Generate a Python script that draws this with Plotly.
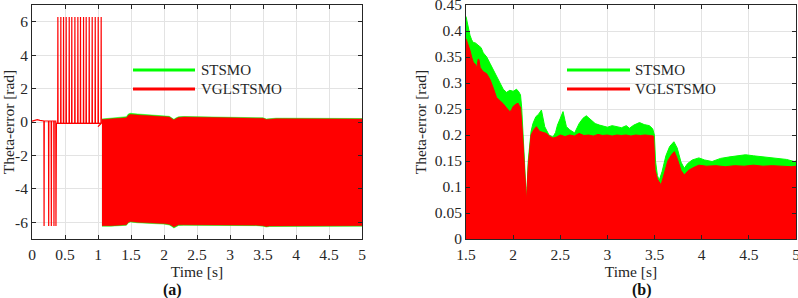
import plotly.graph_objects as go

# ---------------- Panel (a) data ----------------
# Early VGLSTSMO trace (before the dense oscillation starts)
a_base_t = [0.0, 0.04, 0.08, 0.12, 0.17]
a_base_v = [0.05, 0.08, 0.14, 0.10, 0.08]
a_down_spike_t = [0.18, 0.25, 0.29, 0.33, 0.36]
a_spike_low = -6.22
a_mid_level = -0.08
a_up_spike_t = [0.389, 0.434, 0.475, 0.515, 0.561, 0.600, 0.647, 0.692,
                0.732, 0.778, 0.818, 0.864, 0.909, 0.955, 1.000, 1.045]
a_spike_high = 6.28
a_tail_t = [1.0, 1.03, 1.055]
a_tail_v = [-0.28, -0.15, -0.05]
spike_w = 0.006

# Dense oscillation envelopes (t >= 1.06)
a_env_t = [1.06, 1.2, 1.3, 1.43, 1.46, 1.49, 1.6, 1.8, 2.0, 2.08, 2.12, 2.15,
           2.18, 2.22, 2.3, 2.6, 3.0, 3.4, 3.5, 3.55, 3.6, 3.7, 3.8, 4.0, 4.5, 5.0]
a_vgl_upper = [0.15, 0.18, 0.2, 0.25, 0.40, 0.45, 0.42, 0.38, 0.33, 0.30, 0.20, 0.12,
               0.20, 0.27, 0.30, 0.28, 0.26, 0.24, 0.22, 0.15, 0.18, 0.20, 0.20, 0.20, 0.19, 0.18]
a_vgl_lower = [-6.2, -6.2, -6.2, -6.15, -6.0, -5.95, -6.0, -6.05, -6.08, -6.12, -6.2, -6.28,
               -6.22, -6.15, -6.15, -6.15, -6.15, -6.17, -6.2, -6.25, -6.22, -6.18, -6.18, -6.18, -6.2, -6.2]
a_st_upper = [0.18, 0.22, 0.25, 0.32, 0.48, 0.52, 0.48, 0.43, 0.38, 0.34, 0.24, 0.16,
              0.24, 0.31, 0.33, 0.31, 0.29, 0.27, 0.25, 0.18, 0.21, 0.23, 0.23, 0.23, 0.22, 0.21]
a_st_lower = [-6.23, -6.23, -6.23, -6.18, -6.03, -5.98, -6.03, -6.08, -6.11, -6.16, -6.25, -6.34,
              -6.27, -6.19, -6.18, -6.18, -6.18, -6.2, -6.23, -6.28, -6.25, -6.21, -6.21, -6.21, -6.23, -6.23]

# ---------------- Panel (b) data (upper envelopes) ----------------
b_st_t = [1.5, 1.52, 1.542, 1.56, 1.577, 1.6, 1.63, 1.66, 1.683, 1.72, 1.754, 1.79,
          1.824, 1.86, 1.895, 1.93, 1.965, 2.0, 2.036, 2.06, 2.078, 2.09, 2.1, 2.12,
          2.141, 2.16, 2.19, 2.21, 2.24, 2.27, 2.3, 2.335, 2.38, 2.423, 2.45, 2.47,
          2.5, 2.529, 2.55, 2.565, 2.6, 2.652, 2.7, 2.74, 2.776, 2.82, 2.87, 2.917,
          2.96, 3.0, 3.05, 3.093, 3.15, 3.2, 3.233, 3.28, 3.34, 3.39, 3.445, 3.48,
          3.498, 3.51, 3.53, 3.55, 3.58, 3.62, 3.66, 3.705, 3.74, 3.78, 3.815, 3.85,
          3.9, 3.97, 4.03, 4.11, 4.2, 4.3, 4.38, 4.465, 4.55, 4.65, 4.72, 4.82, 4.9, 4.98, 5.0]
b_st_v = [0.428, 0.41, 0.392, 0.383, 0.378, 0.377, 0.372, 0.368, 0.358, 0.35, 0.338, 0.325,
          0.312, 0.298, 0.288, 0.282, 0.286, 0.284, 0.288, 0.283, 0.277, 0.254, 0.21, 0.15,
          0.072, 0.15, 0.207, 0.222, 0.235, 0.24, 0.248, 0.216, 0.2, 0.196, 0.205, 0.219,
          0.232, 0.245, 0.228, 0.216, 0.21, 0.204, 0.222, 0.232, 0.237, 0.23, 0.222, 0.219,
          0.217, 0.215, 0.218, 0.216, 0.214, 0.218, 0.213, 0.219, 0.224, 0.22, 0.218, 0.212,
          0.2, 0.15, 0.122, 0.113, 0.13, 0.16, 0.178, 0.187, 0.175, 0.148, 0.136, 0.145,
          0.152, 0.156, 0.152, 0.149, 0.155, 0.158, 0.16, 0.162, 0.16, 0.158, 0.157, 0.156, 0.153, 0.149, 0.15]
b_vgl_t = [1.5, 1.51, 1.542, 1.56, 1.577, 1.6, 1.613, 1.63, 1.637, 1.65, 1.68, 1.719,
           1.754, 1.79, 1.824, 1.86, 1.895, 1.93, 1.965, 1.983, 2.0, 2.036, 2.053, 2.07,
           2.078, 2.1, 2.12, 2.141, 2.16, 2.19, 2.22, 2.247, 2.28, 2.32, 2.353, 2.39,
           2.423, 2.46, 2.5, 2.55, 2.6, 2.65, 2.7, 2.75, 2.8, 2.85, 2.9, 2.95, 3.0,
           3.05, 3.1, 3.15, 3.2, 3.25, 3.3, 3.35, 3.4, 3.45, 3.49, 3.505, 3.53, 3.569,
           3.6, 3.64, 3.68, 3.71, 3.74, 3.78, 3.815, 3.86, 3.92, 3.97, 4.05, 4.15,
           4.25, 4.35, 4.45, 4.55, 4.65, 4.75, 4.85, 4.95, 5.0]
b_vgl_v = [0.385, 0.38, 0.363, 0.35, 0.34, 0.336, 0.329, 0.346, 0.345, 0.33, 0.322, 0.318,
           0.307, 0.29, 0.272, 0.266, 0.26, 0.252, 0.245, 0.248, 0.255, 0.26, 0.261, 0.254,
           0.254, 0.2, 0.14, 0.072, 0.14, 0.2, 0.21, 0.216, 0.207, 0.205, 0.203, 0.197,
           0.194, 0.196, 0.2, 0.197, 0.2, 0.198, 0.203, 0.199, 0.2, 0.198, 0.201, 0.199, 0.2,
           0.198, 0.2, 0.199, 0.2, 0.198, 0.2, 0.199, 0.2, 0.199, 0.198, 0.133, 0.115, 0.104,
           0.125, 0.15, 0.162, 0.168, 0.155, 0.132, 0.123, 0.132, 0.138, 0.142, 0.14, 0.141,
           0.139, 0.141, 0.14, 0.142, 0.14, 0.141, 0.14, 0.139, 0.14]

# Tick labels
a_xticks = [0, 0.5, 1, 1.5, 2, 2.5, 3, 3.5, 4, 4.5, 5]
a_xlabels = ["0", "0.5", "1", "1.5", "2", "2.5", "3", "3.5", "4", "4.5", "5"]
a_yticks = [-6, -4, -2, 0, 2, 4, 6]
a_ylabels = ["-6", "-4", "-2", "0", "2", "4", "6"]
b_xticks = [1.5, 2, 2.5, 3, 3.5, 4, 4.5, 5]
b_xlabels = ["1.5", "2", "2.5", "3", "3.5", "4", "4.5", "5"]
b_yticks = [0, 0.05, 0.1, 0.15, 0.2, 0.25, 0.3, 0.35, 0.4, 0.45]
b_ylabels = ["0", "0.05", "0.1", "0.15", "0.2", "0.25", "0.3", "0.35", "0.4", "0.45"]

series_names = ["STSMO", "VGLSTSMO"]
GREEN = "#00ff00"
RED = "#ff0000"
FONT = "Liberation Serif"
FS = 15.5

# ---------------- Build early red trace of panel (a) ----------------
early_x, early_y = list(a_base_t), list(a_base_v)
for t in a_down_spike_t:
    early_x += [t, t + spike_w / 2, t + spike_w]
    early_y += [0.06, a_spike_low, 0.06]
early_x += [a_down_spike_t[-1] + 0.01]
early_y += [a_mid_level]
for t in a_up_spike_t:
    early_x += [t, t + spike_w / 2, t + spike_w]
    early_y += [a_mid_level, a_spike_high, a_mid_level]
early_x += a_tail_t
early_y += a_tail_v

fig = go.Figure()

# Panel (a): envelopes of the dense oscillation
fig.add_trace(go.Scatter(x=a_env_t + a_env_t[::-1], y=a_st_upper + a_st_lower[::-1],
                         fill="toself", fillcolor=GREEN, line=dict(color=GREEN, width=0.5),
                         mode="lines", name=series_names[0], showlegend=False,
                         xaxis="x", yaxis="y", hoverinfo="skip"))
fig.add_trace(go.Scatter(x=a_env_t + a_env_t[::-1], y=a_vgl_upper + a_vgl_lower[::-1],
                         fill="toself", fillcolor=RED, line=dict(color=RED, width=0.5),
                         mode="lines", name=series_names[1], showlegend=False,
                         xaxis="x", yaxis="y", hoverinfo="skip"))
fig.add_trace(go.Scatter(x=early_x, y=early_y, mode="lines",
                         line=dict(color=RED, width=1.2), name=series_names[1],
                         showlegend=False, xaxis="x", yaxis="y"))

# Panel (b): filled envelopes
fig.add_trace(go.Scatter(x=b_st_t, y=b_st_v, fill="tozeroy", fillcolor=GREEN,
                         line=dict(color=GREEN, width=1), mode="lines",
                         name=series_names[0], showlegend=False, xaxis="x2", yaxis="y2"))
fig.add_trace(go.Scatter(x=b_vgl_t, y=b_vgl_v, fill="tozeroy", fillcolor=RED,
                         line=dict(color=RED, width=1), mode="lines",
                         name=series_names[1], showlegend=False, xaxis="x2", yaxis="y2"))

W, H = 798, 298
def px_x(p):
    return p / W
def px_y(p):
    return 1 - p / H

dom_a = [px_x(32), px_x(362)]
dom_b = [px_x(466), px_x(796)]
dom_y = [px_y(239), px_y(5)]

axis_common = dict(showline=True, linecolor="#262626", linewidth=1, mirror="ticks",
                   ticks="inside", ticklen=4, tickcolor="#262626",
                   showgrid=True, gridcolor="#e3e3e3", gridwidth=1, zeroline=False,
                   automargin=False, ticklabeloverflow="allow",
                   tickfont=dict(family=FONT, size=FS, color="#262626"))
title_font = dict(family=FONT, size=FS, color="#262626")

fig.update_layout(
    width=W, height=H, margin=dict(l=0, r=0, t=0, b=0, autoexpand=False),
    paper_bgcolor="white", plot_bgcolor="white", showlegend=False,
    font=dict(family=FONT, size=FS, color="#262626"),
    xaxis=dict(domain=dom_a, range=[0, 5], tickvals=a_xticks, ticktext=a_xlabels, anchor="y",
               ticklabelstandoff=1,
               title=dict(text="Time [s]", standoff=1, font=title_font), **axis_common),
    yaxis=dict(domain=dom_y, range=[-7, 7], tickvals=a_yticks, ticktext=a_ylabels, anchor="x",
               title=dict(text="Theta-error [rad]", standoff=4, font=title_font), **axis_common),
    xaxis2=dict(domain=dom_b, range=[1.5, 5], tickvals=b_xticks, ticktext=b_xlabels, anchor="y2",
                ticklabelstandoff=1,
                title=dict(text="Time [s]", standoff=1, font=title_font), **axis_common),
    yaxis2=dict(domain=dom_y, range=[0, 0.45], tickvals=b_yticks, ticktext=b_ylabels, anchor="x2",
                title=dict(text="Theta-error [rad]", standoff=4, font=title_font), **axis_common),
)

# Manual legends (long line samples, no frame) and panel labels
leg_rows = [(px_y(70) - dom_y[0]) / (dom_y[1] - dom_y[0]),
            (px_y(89) - dom_y[0]) / (dom_y[1] - dom_y[0])]
leg_pos = {("x domain", "y domain"): ((133 - 32) / 330, (195 - 32) / 330, (199 - 32) / 330),
           ("x2 domain", "y2 domain"): ((567 - 466) / 330, (630 - 466) / 330, (633 - 466) / 330)}
for (xref, yref), (x0, x1, xt) in leg_pos.items():
    for name, color, yy in zip(series_names, [GREEN, RED], leg_rows):
        fig.add_shape(type="line", xref=xref, yref=yref, x0=x0, x1=x1, y0=yy, y1=yy,
                      line=dict(color=color, width=3))
        fig.add_annotation(xref=xref, yref=yref, x=xt, y=yy, text=name, showarrow=False,
                           xanchor="left", yanchor="middle",
                           font=dict(family=FONT, size=15, color="#262626"))

for label, cx in [("(a)", 172), ("(b)", 642)]:
    fig.add_annotation(xref="paper", yref="paper", x=px_x(cx), y=px_y(290), text="<b>" + label + "</b>",
                       showarrow=False, xanchor="center", yanchor="middle",
                       font=dict(family=FONT, size=16, color="#111111"))

fig.write_html("out.html")
